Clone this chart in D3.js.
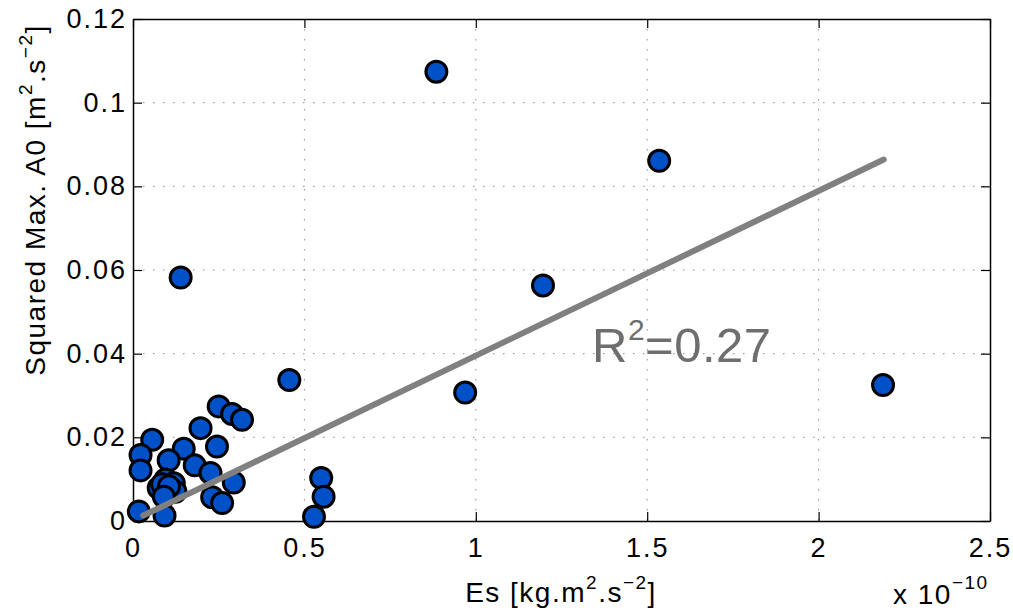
<!DOCTYPE html>
<html>
<head>
<meta charset="utf-8">
<script src="https://cdn.jsdelivr.net/npm/d3@7"></script>
<style>
  body { margin: 0; background: #fff; }
  text { font-family: "Liberation Sans", Arial, sans-serif; }
</style>
</head>
<body>
<svg width="1013" height="613"></svg>
<script>
// Es values (x 1e-10) and squared max A0
var esVals = [0.056, 0.148, 0.022, 0.104, 0.180, 0.022, 0.095, 0.119, 0.075, 0.085,
              0.124, 0.105, 0.090, 0.017, 0.092, 0.250, 0.289, 0.318, 0.197, 0.245,
              0.226, 0.294, 0.231, 0.260, 0.139, 0.456, 0.549, 0.556, 0.528, 0.885,
              0.969, 1.196, 1.535, 2.188];
var a0Vals = [0.0194, 0.0173, 0.0158, 0.0145, 0.0133, 0.0121, 0.0099, 0.0090, 0.0079, 0.0088,
              0.0070, 0.0083, 0.0058, 0.0023, 0.0013, 0.0274, 0.0256, 0.0242, 0.0222, 0.0178,
              0.0115, 0.0092, 0.0057, 0.0043, 0.0582, 0.0337, 0.0103, 0.0058, 0.0010, 0.1074,
              0.0307, 0.0563, 0.0861, 0.0325];
var fitX = [0.03, 2.19];
var fitY = [0.0013, 0.0864];
var xTicks = [0, 0.5, 1, 1.5, 2, 2.5];
var yTicks = [0, 0.02, 0.04, 0.06, 0.08, 0.1, 0.12];
var xTickLabels = ["0", "0.5", "1", "1.5", "2", "2.5"];
var yTickLabels = ["0", "0.02", "0.04", "0.06", "0.08", "0.1", "0.12"];

var pLeft = 133, pRight = 990, pTop = 19, pBottom = 521;

var svg = d3.select("svg");

var x = d3.scaleLinear().domain([0, 2.5]).range([pLeft, pRight]);
var y = d3.scaleLinear().domain([0, 0.12]).range([pBottom, pTop]);

// dotted grid
svg.selectAll(".gx")
    .data(xTicks.slice(1, -1))
    .enter().append("line")
    .attr("x1", function(d){ return x(d); })
    .attr("x2", function(d){ return x(d); })
    .attr("y1", pTop).attr("y2", pBottom)
    .attr("stroke", "#8c8c8c").attr("stroke-width", 1)
    .attr("stroke-dasharray", "1.5,8.5");
svg.selectAll(".gy")
    .data(yTicks.slice(1, -1))
    .enter().append("line")
    .attr("y1", function(d){ return y(d); })
    .attr("y2", function(d){ return y(d); })
    .attr("x1", pLeft).attr("x2", pRight)
    .attr("stroke", "#8c8c8c").attr("stroke-width", 1)
    .attr("stroke-dasharray", "1.5,8.5");

// axes, ticks pointing inside
var xAxis = d3.axisBottom(x).tickValues(xTicks).tickSizeInner(-9).tickSizeOuter(0)
    .tickFormat(function(d, i){ return xTickLabels[i]; }).tickPadding(17);
var yAxis = d3.axisLeft(y).tickValues(yTicks).tickSizeInner(-9).tickSizeOuter(0)
    .tickFormat(function(d, i){ return yTickLabels[i]; }).tickPadding(6);

var gx = svg.append("g").attr("transform", "translate(0," + pBottom + ")").call(xAxis);
var gy = svg.append("g").attr("transform", "translate(" + pLeft + ",0)").call(yAxis);
svg.append("g").attr("transform", "translate(0," + pTop + ")")
    .call(d3.axisTop(x).tickValues(xTicks).tickSizeInner(-9).tickSizeOuter(0).tickFormat(""));
svg.append("g").attr("transform", "translate(" + pRight + ",0)")
    .call(d3.axisRight(y).tickValues(yTicks).tickSizeInner(-9).tickSizeOuter(0).tickFormat(""));

svg.selectAll(".domain").attr("stroke", "#000").attr("stroke-width", 1.5);
svg.selectAll(".tick line").attr("stroke", "#000").attr("stroke-width", 1.2);
svg.selectAll(".tick text")
    .attr("fill", "#000")
    .style("font-size", "27px")
    .style("letter-spacing", "2px")
    .style("font-family", "'Liberation Sans', Arial, sans-serif");
gx.selectAll(".tick text").attr("dy", "0.71em");

// points
svg.selectAll("circle")
    .data(esVals)
    .enter()
    .append("circle")
    .attr("cx", function(d){ return x(d); })
    .attr("cy", function(d, i){ return y(a0Vals[i]); })
    .attr("r", 10.5)
    .attr("fill", "#0050c8")
    .attr("stroke", "#000")
    .attr("stroke-width", 3);

// fit line
svg.append("line")
    .attr("x1", x(fitX[0])).attr("y1", y(fitY[0]))
    .attr("x2", x(fitX[1])).attr("y2", y(fitY[1]))
    .attr("stroke", "#808080").attr("stroke-width", 6)
    .attr("stroke-linecap", "round");

// R^2 annotation
var r2 = svg.append("text")
    .attr("x", 592).attr("y", 362)
    .attr("fill", "#6e6e6e")
    .style("font-size", "49px").style("letter-spacing", "0.5px");
r2.append("tspan").text("R");
r2.append("tspan").attr("dy", -22).style("font-size", "30px").text("2");
r2.append("tspan").attr("dy", 22).text("=0.27");

// axis labels
var xl = svg.append("text")
    .attr("x", 561).attr("y", 602)
    .attr("text-anchor", "middle")
    .style("font-size", "28px").style("letter-spacing", "1.5px");
xl.append("tspan").text("Es [kg.m");
xl.append("tspan").attr("dy", -13).style("font-size", "19px").text("2");
xl.append("tspan").attr("dy", 13).text(".s");
xl.append("tspan").attr("dy", -13).style("font-size", "19px").text("\u22122");
xl.append("tspan").attr("dy", 13).text("]");

var yl = svg.append("text")
    .attr("transform", "translate(45," + 200 + ") rotate(-90)")
    .attr("text-anchor", "middle")
    .style("font-size", "28px").style("letter-spacing", "1.5px");
yl.append("tspan").text("Squared Max. A0 [m");
yl.append("tspan").attr("dy", -13).style("font-size", "19px").text("2");
yl.append("tspan").attr("dy", 13).text(".s");
yl.append("tspan").attr("dy", -13).style("font-size", "19px").text("\u22122");
yl.append("tspan").attr("dy", 13).text("]");

var ex = svg.append("text")
    .attr("x", 893).attr("y", 604)
    .style("font-size", "28px").style("letter-spacing", "1.5px");
ex.append("tspan").text("x 10");
ex.append("tspan").attr("dy", -15).style("font-size", "19px").text("\u221210");
</script>
</body>
</html>
